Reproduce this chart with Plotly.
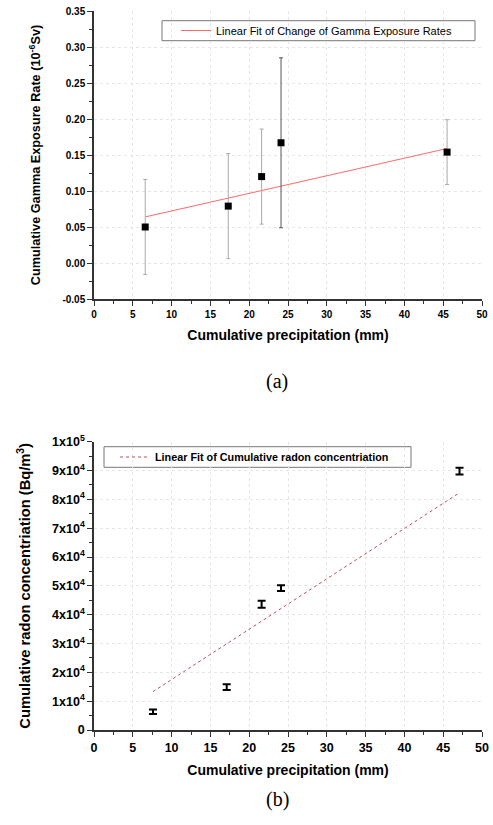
import plotly.graph_objects as go

# ---- Panel (a) data ----
precip_a = [6.6, 17.3, 21.6, 24.1, 45.5]
gamma_a = [0.050, 0.079, 0.120, 0.167, 0.154]
gamma_err = [0.066, 0.073, 0.066, 0.118, 0.045]
fit_a_x = [6.6, 45.5]
fit_a_y = [0.064, 0.159]

# ---- Panel (b) data ----
precip_b = [7.6, 17.1, 21.6, 24.1, 47.1]
radon_b = [6350, 14900, 43600, 49250, 89800]
radon_err = [800, 1000, 1200, 1000, 1150]
fit_b_x = [7.6, 47.1]
fit_b_y = [13300, 82300]

x_ticks = list(range(0, 51, 5))
ya_ticks = [-0.05, 0.0, 0.05, 0.10, 0.15, 0.20, 0.25, 0.30, 0.35]
ya_ticktext = ["-0.05", "0.00", "0.05", "0.10", "0.15", "0.20", "0.25", "0.30", "0.35"]
yb_ticks = [0, 10000, 20000, 30000, 40000, 50000, 60000, 70000, 80000, 90000, 100000]
yb_ticktext = ["0", "1x10<sup>4</sup>", "2x10<sup>4</sup>", "3x10<sup>4</sup>", "4x10<sup>4</sup>",
               "5x10<sup>4</sup>", "6x10<sup>4</sup>", "7x10<sup>4</sup>", "8x10<sup>4</sup>",
               "9x10<sup>4</sup>", "1x10<sup>5</sup>"]

W, H = 493, 825
def px_x(p): return p / W
def px_y(p): return 1 - p / H

FONT = "Liberation Sans, Arial, sans-serif"
err_colors = ["#aaaaaa", "#aaaaaa", "#aaaaaa", "#555555", "#aaaaaa"]

fig = go.Figure()

# Panel (a) fit
fig.add_trace(go.Scatter(x=fit_a_x, y=fit_a_y, mode="lines",
                         line=dict(color="#ff6a6a", width=1),
                         name="Linear Fit of Change of Gamma Exposure Rates",
                         xaxis="x", yaxis="y", legend="legend"))
for i in range(len(precip_a)):
    fig.add_trace(go.Scatter(x=[precip_a[i]], y=[gamma_a[i]], mode="markers",
                             marker=dict(symbol="square", size=7, color="black"),
                             error_y=dict(type="data", array=[gamma_err[i]], color=err_colors[i],
                                          thickness=1, width=2),
                             showlegend=False, xaxis="x", yaxis="y"))

# Panel (b)
fig.add_trace(go.Scatter(x=fit_b_x, y=fit_b_y, mode="lines",
                         line=dict(color="#b5505f", width=1, dash="dot"),
                         name="Linear Fit of Cumulative radon concentriation",
                         xaxis="x2", yaxis="y2", legend="legend2"))
fig.add_trace(go.Scatter(x=precip_b, y=radon_b, mode="markers",
                         marker=dict(size=1, color="black"),
                         error_y=dict(type="data", array=radon_err, color="black",
                                      thickness=2, width=4),
                         showlegend=False, xaxis="x2", yaxis="y2"))

AX = "#333333"
common_x = dict(range=[0, 50], tickvals=x_ticks, ticks="outside", ticklen=5, tickwidth=1,
                tickcolor=AX, showline=True, linecolor=AX, linewidth=1.5,
                showgrid=True, gridcolor="#e6e6e6", griddash="dot", gridwidth=1,
                zeroline=False, minor=dict(dtick=2.5, ticks="outside", ticklen=3, tickcolor=AX),
                color="black", automargin=False)

def mirror_axis(over, side, anchor, rng, tv, mdt):
    return dict(overlaying=over, side=side, anchor=anchor, range=rng, tickvals=tv,
                ticks="inside", ticklen=5, tickcolor=AX, showticklabels=False,
                showline=True, linecolor=AX, linewidth=1.5, showgrid=False, zeroline=False,
                minor=dict(dtick=mdt, ticks="inside", ticklen=3, tickcolor=AX), automargin=False)

dom_x = [px_x(94), px_x(482)]
dom_ya = [px_y(299), px_y(11)]
dom_yb = [px_y(730), px_y(441.7)]

fig.update_layout(
    width=W, height=H, margin=dict(l=0, r=0, t=0, b=0, autoexpand=False),
    paper_bgcolor="white", plot_bgcolor="white",
    font=dict(family=FONT, color="black"),
    xaxis=dict(**common_x, domain=dom_x, anchor="y",
               tickfont=dict(size=10, family=FONT, weight="bold"),
               title=dict(text="<b>Cumulative precipitation (mm)</b>", font=dict(size=14), standoff=11)),
    yaxis=dict(domain=dom_ya, anchor="x", range=[-0.05, 0.35], tickvals=ya_ticks, ticktext=ya_ticktext,
               ticks="outside", ticklen=5, tickcolor=AX,
               showline=True, linecolor=AX, linewidth=1.5,
               showgrid=True, gridcolor="#e6e6e6", griddash="dot", zeroline=False,
               minor=dict(dtick=0.025, ticks="outside", ticklen=3, tickcolor=AX),
               tickfont=dict(size=10, family=FONT, weight="bold"), automargin=False,
               title=dict(text="<b>Cumulative Gamma Exposure Rate (10<sup>-6</sup>Sv)</b>",
                          font=dict(size=12.7), standoff=19)),
    xaxis3=mirror_axis("x", "top", "y", [0, 50], x_ticks, 2.5),
    yaxis3=mirror_axis("y", "right", "x", [-0.05, 0.35], ya_ticks, 0.025),
    xaxis2=dict(**common_x, domain=dom_x, anchor="y2",
                tickfont=dict(size=12.5, family=FONT, weight="bold"),
                title=dict(text="<b>Cumulative precipitation (mm)</b>", font=dict(size=14), standoff=11)),
    yaxis2=dict(domain=dom_yb, anchor="x2", range=[0, 100000], tickvals=yb_ticks, ticktext=yb_ticktext,
                ticks="outside", ticklen=5, tickcolor=AX,
                showline=True, linecolor=AX, linewidth=1.5,
                showgrid=True, gridcolor="#e6e6e6", griddash="dot", zeroline=False,
                minor=dict(dtick=5000, ticks="outside", ticklen=3, tickcolor=AX),
                tickfont=dict(size=12.5, family=FONT, weight="bold"), automargin=False,
                title=dict(text="<b>Cumulative radon concentriation (Bq/m<sup>3</sup>)</b>",
                           font=dict(size=14.7), standoff=18)),
    xaxis4=mirror_axis("x2", "top", "y2", [0, 50], x_ticks, 2.5),
    yaxis4=mirror_axis("y2", "right", "x2", [0, 100000], yb_ticks, 5000),
    legend=dict(x=px_x(176), y=px_y(16), xanchor="left", yanchor="top",
                borderwidth=0, bgcolor="rgba(0,0,0,0)",
                font=dict(size=11, family=FONT), itemwidth=30),
    legend2=dict(x=px_x(115), y=px_y(442.5), xanchor="left", yanchor="top",
                 borderwidth=0, bgcolor="rgba(0,0,0,0)",
                 font=dict(size=10.8, family=FONT, weight="bold"), itemwidth=30),
    shapes=[
        dict(type="rect", xref="paper", yref="paper", x0=px_x(162), x1=px_x(475),
             y0=px_y(40.7), y1=px_y(20.7), line=dict(color="#777", width=1), fillcolor="white",
             layer="below"),
        dict(type="rect", xref="paper", yref="paper", x0=px_x(104), x1=px_x(411),
             y0=px_y(467.3), y1=px_y(446.7), line=dict(color="#777", width=1), fillcolor="white",
             layer="below"),
    ],
    annotations=[
        dict(text="(a)", x=px_x(277), y=px_y(381), xref="paper", yref="paper",
             showarrow=False, font=dict(family="Liberation Serif, Times New Roman, serif", size=20)),
        dict(text="(b)", x=px_x(277), y=px_y(813), xref="paper", yref="paper",
             showarrow=False, font=dict(family="Liberation Serif, Times New Roman, serif", size=20)),
    ],
)

fig.write_html("out.html", config={"displayModeBar": False},
               post_script="document.body.style.margin='0';document.body.style.overflow='hidden';")
